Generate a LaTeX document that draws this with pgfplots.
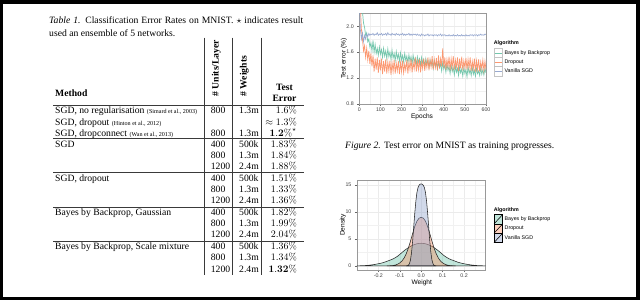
\documentclass[border=0pt]{standalone}
\usepackage[no-math]{fontspec}
\setmainfont{Liberation Serif}
\newfontfamily\chartfont{Liberation Sans}
\usepackage{pgfplots}
\pgfplotsset{compat=1.18}
\usepackage{pgfplotstable}

\definecolor{bbbgreen}{HTML}{66C2A5}
\definecolor{dropor}{HTML}{FC8D62}
\definecolor{sgdblue}{HTML}{8DA0CB}
\definecolor{gridgray}{HTML}{EBEBEB}
\definecolor{rulegray}{HTML}{3A3A3A}

\newcommand\tabfont{\fontsize{9.7}{11}\selectfont}
\newcommand\citefont{\fontsize{6.1}{6.5}\selectfont}
\newcommand\tickfont{\chartfont\fontsize{5.3}{6}\selectfont}
\newcommand\titlefont{\chartfont\fontsize{6.6}{7}\selectfont}

% one table row: y (from top), method, units, weights, error
\newcommand\trow[5]{%
  \node[anchor=base west,inner sep=0pt,font=\tabfont] at (55,{300-#1-3}) {#2};
  \node[anchor=base west,inner sep=0pt,font=\tabfont] at (210.7,{300-#1-3}) {#3};
  \node[anchor=base west,inner sep=0pt,font=\tabfont] at (239,{300-#1-3}) {#4};
  \node[anchor=base east,inner sep=0pt,font=\tabfont] at (297,{300-#1-3}) {#5};
}

% test error during training (every 5 epochs)
\pgfplotstableread{
ep bbb drop sgd
0 2.50 2.60 2.40
5 2.38 2.30 1.95
10 2.30 1.95 1.80
15 2.22 1.80 1.90
20 2.05 1.62 1.76
25 1.98 1.70 1.86
30 1.86 1.52 1.80
35 1.90 1.66 1.88
40 1.76 1.48 1.84
45 1.80 1.62 1.89
50 1.68 1.42 1.86
55 1.74 1.58 1.88
60 1.62 1.38 1.87
65 1.78 1.55 1.89
70 1.60 1.30 1.86
75 1.72 1.50 1.88
80 1.58 1.33 1.87
85 1.66 1.52 1.90
90 1.55 1.28 1.86
95 1.68 1.48 1.88
100 1.57 1.32 1.87
105 1.64 1.50 1.89
110 1.52 1.26 1.86
115 1.66 1.46 1.88
120 1.54 1.30 1.87
125 1.62 1.49 1.89
130 1.50 1.27 1.86
135 1.65 1.45 1.90
140 1.53 1.31 1.87
145 1.60 1.47 1.88
150 1.49 1.25 1.86
155 1.63 1.44 1.89
160 1.51 1.30 1.87
165 1.58 1.48 1.88
170 1.47 1.27 1.86
175 1.61 1.43 1.89
180 1.50 1.31 1.87
185 1.57 1.46 1.88
190 1.46 1.26 1.86
195 1.59 1.44 1.88
200 1.48 1.30 1.87
205 1.55 1.47 1.89
210 1.45 1.28 1.86
215 1.58 1.42 1.88
220 1.47 1.32 1.86
225 1.54 1.48 1.88
230 1.44 1.27 1.87
235 1.56 1.45 1.89
240 1.46 1.33 1.86
245 1.53 1.50 1.88
250 1.42 1.29 1.86
255 1.55 1.44 1.88
260 1.45 1.34 1.87
265 1.51 1.52 1.88
270 1.41 1.30 1.86
275 1.53 1.46 1.88
280 1.44 1.33 1.86
285 1.50 1.49 1.87
290 1.40 1.29 1.85
295 1.52 1.45 1.88
300 1.43 1.35 1.86
305 1.49 1.50 1.87
310 1.38 1.31 1.85
315 1.50 1.47 1.87
320 1.41 1.36 1.86
325 1.47 1.52 1.88
330 1.37 1.32 1.85
335 1.48 1.48 1.87
340 1.40 1.37 1.86
345 1.46 1.54 1.87
350 1.35 1.33 1.85
355 1.47 1.49 1.87
360 1.38 1.36 1.86
365 1.44 1.51 1.87
370 1.34 1.32 1.85
375 1.45 1.55 1.87
380 1.36 1.35 1.86
385 1.42 1.50 1.88
390 1.31 1.38 1.85
395 1.44 1.66 1.87
400 1.34 1.36 1.86
405 1.40 1.52 1.87
410 1.29 1.33 1.85
415 1.42 1.49 1.86
420 1.32 1.37 1.85
425 1.38 1.53 1.87
430 1.27 1.32 1.85
435 1.40 1.50 1.86
440 1.30 1.36 1.85
445 1.36 1.54 1.87
450 1.25 1.33 1.85
455 1.38 1.48 1.86
460 1.29 1.37 1.85
465 1.35 1.52 1.87
470 1.24 1.31 1.85
475 1.37 1.50 1.86
480 1.28 1.35 1.85
485 1.34 1.53 1.87
490 1.23 1.32 1.85
495 1.36 1.47 1.86
500 1.27 1.36 1.85
505 1.33 1.51 1.87
510 1.22 1.33 1.85
515 1.38 1.49 1.86
520 1.27 1.35 1.85
525 1.33 1.52 1.87
530 1.24 1.31 1.86
535 1.36 1.46 1.87
540 1.26 1.34 1.85
545 1.32 1.50 1.87
550 1.23 1.30 1.86
555 1.35 1.47 1.87
560 1.27 1.33 1.85
565 1.31 1.49 1.87
570 1.24 1.30 1.86
575 1.36 1.45 1.88
580 1.26 1.34 1.86
585 1.33 1.48 1.87
590 1.25 1.31 1.86
595 1.35 1.46 1.88
600 1.28 1.33 1.87
}\mnist

% weight densities
\pgfplotstableread{
w d
-0.30 0.01
-0.29 0.02
-0.28 0.03
-0.27 0.05
-0.26 0.07
-0.25 0.10
-0.24 0.14
-0.23 0.19
-0.22 0.25
-0.21 0.32
-0.20 0.40
-0.19 0.48
-0.18 0.58
-0.17 0.70
-0.16 0.85
-0.15 1.00
-0.14 1.15
-0.13 1.32
-0.12 1.55
-0.11 1.80
-0.10 2.12
-0.09 2.48
-0.08 2.80
-0.07 3.10
-0.06 3.38
-0.05 3.62
-0.04 3.82
-0.03 3.98
-0.02 4.10
-0.01 4.17
0.00 4.20
0.01 4.17
0.02 4.10
0.03 3.98
0.04 3.82
0.05 3.62
0.06 3.38
0.07 3.10
0.08 2.80
0.09 2.48
0.10 2.12
0.11 1.80
0.12 1.55
0.13 1.32
0.14 1.15
0.15 1.00
0.16 0.85
0.17 0.70
0.18 0.58
0.19 0.48
0.20 0.40
0.21 0.32
0.22 0.25
0.23 0.19
0.24 0.14
0.25 0.10
0.26 0.07
0.27 0.05
0.28 0.03
0.29 0.02
0.30 0.01
}\densbbb

\pgfplotstableread{
w d
-0.16 0.00
-0.15 0.012
-0.14 0.035
-0.13 0.08
-0.12 0.17
-0.11 0.32
-0.10 0.55
-0.09 0.90
-0.08 1.45
-0.07 2.25
-0.06 3.30
-0.05 4.60
-0.04 6.00
-0.03 7.30
-0.02 8.30
-0.01 8.85
0.00 9.00
0.01 8.85
0.02 8.30
0.03 7.30
0.04 6.00
0.05 4.60
0.06 3.30
0.07 2.25
0.08 1.45
0.09 0.90
0.10 0.55
0.11 0.32
0.12 0.17
0.13 0.08
0.14 0.035
0.15 0.012
0.16 0.00
}\densdrop

\pgfplotstableread{
w d
-0.070 0.00
-0.065 0.03
-0.060 0.12
-0.055 0.40
-0.050 1.10
-0.045 2.50
-0.040 4.60
-0.035 7.20
-0.030 9.80
-0.025 12.00
-0.020 13.60
-0.015 14.50
-0.010 14.95
-0.005 15.15
0.000 15.20
0.005 15.15
0.010 14.95
0.015 14.50
0.020 13.60
0.025 12.00
0.030 9.80
0.035 7.20
0.040 4.60
0.045 2.50
0.050 1.10
0.055 0.40
0.060 0.12
0.065 0.03
0.070 0.00
}\denssgd

\pgfplotsset{
  ggpanel/.style={
    scale only axis, anchor=south west,
    grid=both,
    major grid style={gridgray, line width=0.55bp},
    minor grid style={gridgray!70, line width=0.3bp},
    axis line style={black!40, line width=0.5bp},
    tick pos=left, tick align=outside,
    major tick length=2bp, minor tick length=0pt,
    tick style={black!60, line width=0.4bp},
    ticklabel style={font=\tickfont, text=black!75},
    xticklabel style={yshift=2bp},
    label style={font=\titlefont},
    legend cell align=left,
  },
}

\begin{document}
\begin{tikzpicture}[x=1bp,y=1bp]
\path[use as bounding box] (0,0) rectangle (640,300);
\fill[black] (0,0) rectangle (640,300);
\fill[white] (3,3) rectangle (636,296);

% ---------- Table 1 ----------
\node[anchor=base west,inner sep=0pt,font=\tabfont] at (49,276.3)
  {\makebox[254bp][s]{\textit{Table 1.} Classification Error Rates on MNIST. $\star$ indicates result}};
\node[anchor=base west,inner sep=0pt,font=\tabfont] at (49,263.7)
  {used an ensemble of 5 networks.};

\node[anchor=base west,inner sep=0pt,font=\tabfont\bfseries] at (55,{300-96.3}) {Method};
\node[anchor=base west,inner sep=0pt,font=\tabfont\bfseries,rotate=90] at (218.5,{300-96.7}) {\# Units/Layer};
\node[anchor=base west,inner sep=0pt,font=\tabfont\bfseries,rotate=90] at (246.5,{300-96.7}) {\# Weights};
\node[anchor=base,inner sep=0pt,font=\tabfont\bfseries] at (284.5,{300-90.3}) {Test};
\node[anchor=base,inner sep=0pt,font=\tabfont\bfseries] at (284.5,{300-101.7}) {Error};

\begin{scope}[rulegray, line width=0.6bp]
  \draw (53.3,{300-105.7}) -- (304,{300-105.7});
  \draw (53.3,{300-138.5}) -- (304,{300-138.5});
  \draw (53.3,{300-172}) -- (304,{300-172});
  \draw (53.3,{300-206.8}) -- (304,{300-206.8});
  \draw (53.3,{300-241.4}) -- (304,{300-241.4});
  \draw (204,{300-37.7}) -- (204,{300-275});
  \draw (231.8,{300-37.7}) -- (231.8,{300-275});
  \draw (261,{300-37.7}) -- (261,{300-275});
\end{scope}

\trow{110.8}{SGD, no regularisation {\citefont (Simard et al., 2003)}}{800}{1.3m}{$1.6\%$}
\trow{122.1}{SGD, dropout {\citefont (Hinton et al., 2012)}}{}{}{$\approx 1.3\%$}
\trow{133.4}{SGD, dropconnect {\citefont (Wan et al., 2013)}}{800}{1.3m}{$\mathbf{1.2\%}^{\star}$}
\trow{144.0}{SGD}{400}{500k}{$1.83\%$}
\trow{155.2}{}{800}{1.3m}{$1.84\%$}
\trow{166.4}{}{1200}{2.4m}{$1.88\%$}
\trow{178.0}{SGD, dropout}{400}{500k}{$1.51\%$}
\trow{189.3}{}{800}{1.3m}{$1.33\%$}
\trow{200.6}{}{1200}{2.4m}{$1.36\%$}
\trow{212.4}{Bayes by Backprop, Gaussian}{400}{500k}{$1.82\%$}
\trow{223.6}{}{800}{1.3m}{$1.99\%$}
\trow{234.9}{}{1200}{2.4m}{$2.04\%$}
\trow{246.7}{Bayes by Backprop, Scale mixture}{400}{500k}{$1.36\%$}
\trow{257.9}{}{800}{1.3m}{$1.34\%$}
\trow{269.1}{}{1200}{2.4m}{$\mathbf{1.32}\%$}

% ---------- Figure 2 caption ----------
\node[anchor=base west,inner sep=0pt,font=\tabfont] at (345,151.3)
  {\textit{Figure 2.} Test error on MNIST as training progresses.};

% ---------- test error curves ----------
\begin{axis}[ggpanel,
  at={(359.3bp,196bp)}, width=126.7bp, height=90.7bp,
  xmin=0, xmax=600, ymin=0.8, ymax=2.2,
  xtick={0,100,200,300,400,500,600},
  xticklabels={0,100,200,300,400,500,600},
  minor xtick={50,150,250,350,450,550},
  ytick={0.8,1.2,1.6,2.0}, yticklabels={0.8,1.2,1.6,2.0},
  minor ytick={1.0,1.4,1.8},
  xlabel={Epochs}, ylabel={Test error (\%)},
  xlabel style={at={(axis description cs:0.495,-0.137)}, anchor=center},
  ylabel style={at={(axis description cs:-0.121,0.5)}, anchor=center},
  legend style={at={(1.0608,0.6174)}, anchor=north west, draw=none, fill=none,
    inner sep=0pt, outer sep=0pt, row sep=-0.5bp, column sep=1.2bp,
    font=\tickfont, nodes={inner sep=0.6bp}},
]
\addplot[bbbgreen, line width=0.7bp, opacity=0.9,
  legend image code/.code={\draw[black!25,fill=white,line width=0.4bp] (0bp,-4.65bp) rectangle (8.7bp,4.65bp);
    \draw[bbbgreen,line width=0.6bp] (0.9bp,0bp) -- (7.8bp,0bp);}]
  table[x=ep, y=bbb] {\mnist};
\addlegendentry{Bayes by Backprop}
\addplot[dropor, line width=0.7bp, opacity=0.9,
  legend image code/.code={\draw[black!25,fill=white,line width=0.4bp] (0bp,-4.65bp) rectangle (8.7bp,4.65bp);
    \draw[dropor,line width=0.6bp] (0.9bp,0bp) -- (7.8bp,0bp);}]
  table[x=ep, y=drop] {\mnist};
\addlegendentry{Dropout}
\addplot[sgdblue, line width=0.65bp, opacity=0.9,
  legend image code/.code={\draw[black!25,fill=white,line width=0.4bp] (0bp,-4.65bp) rectangle (8.7bp,4.65bp);
    \draw[sgdblue,line width=0.6bp] (0.9bp,0bp) -- (7.8bp,0bp);}]
  table[x=ep, y=sgd] {\mnist};
\addlegendentry{Vanilla SGD}
\end{axis}
\node[anchor=base west,inner sep=0pt,font=\chartfont\bfseries\fontsize{5.3}{6}\selectfont] at (493.7,255.1) {Algorithm};

% ---------- weight densities ----------
\begin{axis}[ggpanel,
  at={(356.9bp,30bp)}, width=128.6bp, height=90.2bp,
  xmin=-0.3, xmax=0.3, ymin=-0.76, ymax=15.96,
  xtick={-0.2,-0.1,0,0.1,0.2}, xticklabels={-0.2,-0.1,0.0,0.1,0.2},
  minor xtick={-0.25,-0.15,-0.05,0.05,0.15,0.25},
  ytick={0,5,10,15}, yticklabels={0,5,10,15},
  minor ytick={2.5,7.5,12.5},
  xlabel={Weight}, ylabel={Density},
  xlabel style={at={(axis description cs:0.504,-0.141)}, anchor=center},
  ylabel style={at={(axis description cs:-0.108,0.5)}, anchor=center},
  legend style={at={(1.0638,0.6175)}, anchor=north west, draw=none, fill=none,
    inner sep=0pt, outer sep=0pt, row sep=-0.5bp, column sep=1.2bp,
    font=\tickfont, nodes={inner sep=0.6bp}},
]
\addplot[draw=black!85, line width=0.55bp, fill=bbbgreen, fill opacity=0.4,
  legend image code/.code={\path[draw=black,line width=0.5bp,fill=bbbgreen,fill opacity=0.4] (0bp,-4.675bp) rectangle (8.7bp,4.675bp);
    \draw[black,line width=0.5bp] (0bp,-4.675bp) -- (8.7bp,4.675bp);}]
  table[x=w, y=d] {\densbbb} \closedcycle;
\addlegendentry{Bayes by Backprop}
\addplot[draw=black!85, line width=0.55bp, fill=dropor, fill opacity=0.4,
  legend image code/.code={\path[draw=black,line width=0.5bp,fill=dropor,fill opacity=0.4] (0bp,-4.675bp) rectangle (8.7bp,4.675bp);
    \draw[black,line width=0.5bp] (0bp,-4.675bp) -- (8.7bp,4.675bp);}]
  table[x=w, y=d] {\densdrop} \closedcycle;
\addlegendentry{Dropout}
\addplot[draw=black!85, line width=0.55bp, fill=sgdblue, fill opacity=0.4,
  legend image code/.code={\path[draw=black,line width=0.5bp,fill=sgdblue,fill opacity=0.4] (0bp,-4.675bp) rectangle (8.7bp,4.675bp);
    \draw[black,line width=0.5bp] (0bp,-4.675bp) -- (8.7bp,4.675bp);}]
  table[x=w, y=d] {\denssgd} \closedcycle;
\addlegendentry{Vanilla SGD}
\end{axis}
\node[anchor=base west,inner sep=0pt,font=\chartfont\bfseries\fontsize{5.3}{6}\selectfont] at (493.7,88.1) {Algorithm};
\end{tikzpicture}
\end{document}
